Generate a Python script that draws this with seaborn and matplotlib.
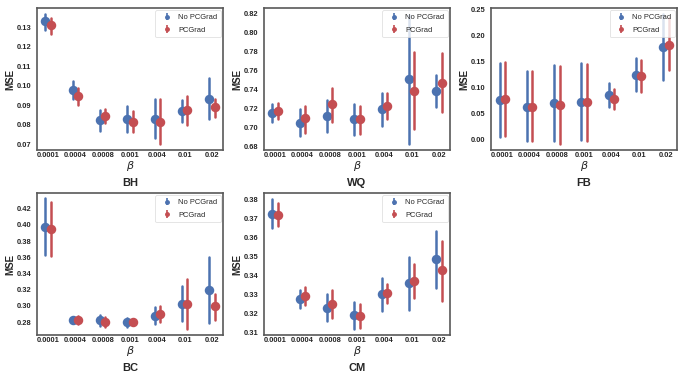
import numpy as np
import pandas as pd
import matplotlib
matplotlib.use("Agg")
import matplotlib.pyplot as plt
import matplotlib.ticker as ticker
import seaborn as sns

sns.set_style("white")
plt.rcParams['font.family'] = ['Liberation Sans', 'DejaVu Sans']

betas = ['0.0001', '0.0004', '0.0008', '0.001', '0.004', '0.01', '0.02']
methods = ['No PCGrad', 'PCGrad']
colors = ['#4C72B0', '#C44E52']

# point value, lower and upper end of the interval
bh_no_mid = [0.1329, 0.0978, 0.0826, 0.0831, 0.0831, 0.0874, 0.0933]
bh_no_lo = [0.1288, 0.0933, 0.0771, 0.0766, 0.0731, 0.0817, 0.0829]
bh_no_hi = [0.1369, 0.1024, 0.0878, 0.0895, 0.0933, 0.0929, 0.1038]
bh_pc_mid = [0.1309, 0.0947, 0.0847, 0.0817, 0.0817, 0.0878, 0.0891]
bh_pc_lo = [0.1266, 0.0903, 0.0812, 0.0766, 0.0705, 0.0800, 0.0840]
bh_pc_hi = [0.1347, 0.0990, 0.0881, 0.0872, 0.0933, 0.0950, 0.0933]

wq_no_mid = [0.716, 0.7054, 0.7124, 0.7089, 0.7198, 0.7514, 0.7388]
wq_no_lo = [0.7065, 0.6914, 0.6959, 0.6924, 0.7019, 0.6833, 0.7223]
wq_no_hi = [0.7247, 0.7195, 0.7293, 0.7247, 0.737, 0.819, 0.7557]
wq_pc_mid = [0.718, 0.71, 0.7247, 0.7089, 0.7233, 0.7391, 0.7475]
wq_pc_lo = [0.709, 0.6949, 0.7065, 0.6935, 0.7089, 0.6989, 0.717]
wq_pc_hi = [0.7265, 0.723, 0.7416, 0.7233, 0.737, 0.7796, 0.7785]

fb_no_mid = [0.076, 0.063, 0.071, 0.073, 0.086, 0.124, 0.177]
fb_no_lo = [0.005, -0.003, -0.003, -0.001, 0.062, 0.093, 0.115]
fb_no_hi = [0.147, 0.131, 0.144, 0.147, 0.108, 0.157, 0.2406]
fb_pc_mid = [0.078, 0.063, 0.067, 0.072, 0.078, 0.123, 0.182]
fb_pc_lo = [0.006, -0.003, -0.008, -0.003, 0.058, 0.092, 0.134]
fb_pc_hi = [0.150, 0.131, 0.142, 0.146, 0.098, 0.153, 0.234]

bc_no_mid = [0.3971, 0.2824, 0.2828, 0.2807, 0.2878, 0.3027, 0.3198]
bc_no_lo = [0.363, 0.2786, 0.2757, 0.2745, 0.2774, 0.2815, 0.2786]
bc_no_hi = [0.4328, 0.2861, 0.289, 0.2857, 0.2982, 0.3244, 0.3605]
bc_pc_mid = [0.395, 0.2832, 0.2807, 0.2807, 0.2899, 0.3027, 0.2994]
bc_pc_lo = [0.3618, 0.2778, 0.2745, 0.2766, 0.2799, 0.272, 0.2828]
bc_pc_hi = [0.4283, 0.2882, 0.2861, 0.284, 0.2994, 0.3327, 0.3152]

cm_no_mid = [0.3724, 0.3278, 0.3232, 0.3194, 0.3304, 0.3361, 0.3487]
cm_no_lo = [0.3651, 0.3232, 0.3162, 0.3122, 0.3215, 0.322, 0.3338]
cm_no_hi = [0.3801, 0.3325, 0.3303, 0.3264, 0.3387, 0.3496, 0.3633]
cm_pc_mid = [0.3721, 0.3296, 0.3252, 0.3188, 0.3308, 0.3373, 0.3431]
cm_pc_lo = [0.3659, 0.3246, 0.318, 0.3123, 0.3255, 0.3285, 0.3267]
cm_pc_hi = [0.3782, 0.334, 0.3325, 0.3252, 0.3355, 0.3463, 0.358]

panels = [
    ('BH', [(bh_no_lo, bh_no_mid, bh_no_hi), (bh_pc_lo, bh_pc_mid, bh_pc_hi)], 0.01, (0.0671, 0.1398)),
    ('WQ', [(wq_no_lo, wq_no_mid, wq_no_hi), (wq_pc_lo, wq_pc_mid, wq_pc_hi)], 0.02, (0.6765, 0.826)),
    ('FB', [(fb_no_lo, fb_no_mid, fb_no_hi), (fb_pc_lo, fb_pc_mid, fb_pc_hi)], 0.05, (-0.0206, 0.253)),
    ('BC', [(bc_no_lo, bc_no_mid, bc_no_hi), (bc_pc_lo, bc_pc_mid, bc_pc_hi)], 0.02, (0.264, 0.4395)),
    ('CM', [(cm_no_lo, cm_no_mid, cm_no_hi), (cm_pc_lo, cm_pc_mid, cm_pc_hi)], 0.01, (0.3088, 0.3835)),
]


def to_long(series):
    # three rows per point: median -> point, min/max -> interval
    rows = []
    for method, (lo, mid, hi) in zip(methods, series):
        for b, l, m, h in zip(betas, lo, mid, hi):
            for v in (l, m, h):
                rows.append({'beta': b, 'method': method, 'MSE': v})
    return pd.DataFrame(rows)


fig, axes = plt.subplots(2, 3, figsize=(6.84, 3.8), dpi=100)
plt.subplots_adjust(left=0.054, right=0.99, bottom=0.118, top=0.979, wspace=0.22, hspace=0.30)
axes = axes.flatten()

for ax, (name, series, step, lims) in zip(axes, panels):
    df = to_long(series)
    sns.pointplot(data=df, x='beta', y='MSE', hue='method', order=betas, hue_order=methods,
                  palette=colors, estimator='median', errorbar=('pi', 100), dodge=0.2,
                  linestyle='none', markers='o', markersize=4.8,
                  err_kws={'linewidth': 1.8}, legend=False, ax=ax)
    ax.set_ylim(*lims)
    ax.yaxis.set_major_locator(ticker.MultipleLocator(step))
    ax.yaxis.set_major_formatter(ticker.FormatStrFormatter('%.2f'))
    ax.tick_params(axis='x', length=0, pad=1.5, labelsize=5.4)
    ax.tick_params(axis='y', length=0, pad=4, labelsize=5.4)
    for lab in ax.get_xticklabels() + ax.get_yticklabels():
        lab.set_fontweight('bold')
    ax.set_xlabel(r'$\beta$', fontsize=8, labelpad=0)
    ax.set_ylabel('MSE', fontsize=7, fontweight='bold', labelpad=1)
    ax.text(0.5, -0.232, name, transform=ax.transAxes, ha='center', va='center',
            fontsize=8, fontweight='bold')
    for sp in ax.spines.values():
        sp.set_color('0.35')
        sp.set_linewidth(1.2)
    for method, c in zip(methods, colors):
        ax.errorbar([np.nan], [np.nan], yerr=[np.nan], fmt='o', color=c, ms=2.5,
                    elinewidth=1.2, label=method)
    leg = ax.legend(loc='upper right', fontsize=5.4, frameon=True, borderaxespad=0.3,
                    handlelength=2.0, handletextpad=0.5, labelspacing=0.7, borderpad=0.5)
    leg.get_frame().set_edgecolor('0.85')
    leg.get_frame().set_linewidth(0.6)

axes[5].axis('off')

plt.savefig('out.png', dpi=100)
